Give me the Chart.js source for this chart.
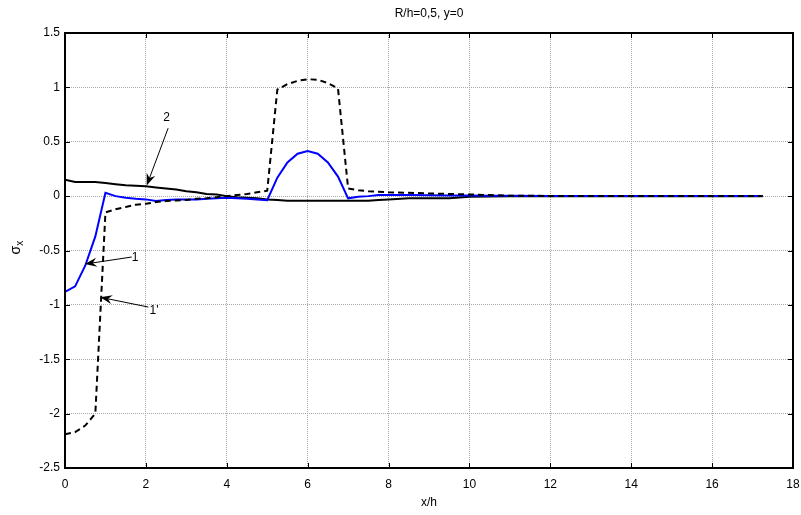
<!DOCTYPE html>
<html>
<head>
<meta charset="utf-8">
<script src="https://cdn.jsdelivr.net/npm/chart.js@4/dist/chart.umd.min.js"></script>
<style>
html,body{margin:0;padding:0;background:#fff;}
#wrap{width:801px;height:515px;}
</style>
</head>
<body>
<div id="wrap"><canvas id="c" width="801" height="515"></canvas></div>
<script>
// x/h positions
const xs = [0,0.25,0.5,0.75,1,1.25,1.5,1.75,2,2.25,2.5,2.75,3,3.25,3.5,3.75,4,4.25,4.5,4.75,5,5.25,5.5,5.75,6,6.25,6.5,6.75,7,7.25,7.5,7.75,8,8.5,9,9.5,10,10.5,11,12,13,14,15,16,17.25];
// curve 1 (blue solid)
const sigma1 = [-0.88,-0.83,-0.64,-0.37,0.03,0.0,-0.015,-0.025,-0.03,-0.045,-0.035,-0.03,-0.03,-0.03,-0.025,-0.02,-0.015,-0.02,-0.025,-0.03,-0.037,0.17,0.31,0.39,0.415,0.39,0.31,0.18,-0.02,-0.005,0.0,0.01,0.01,0.01,0.008,0.006,0.005,0.004,0.003,0.002,0.002,0.002,0.002,0.002,0.002];
// curve 1' (black dashed)
const sigma1p = [-2.19,-2.17,-2.11,-2.0,-0.15,-0.12,-0.1,-0.08,-0.07,-0.055,-0.045,-0.04,-0.035,-0.025,-0.02,-0.01,0.0,0.01,0.02,0.035,0.05,0.98,1.03,1.06,1.075,1.07,1.04,0.99,0.07,0.055,0.045,0.04,0.035,0.03,0.025,0.02,0.015,0.01,0.003,0.002,0.002,0.002,0.002,0.002,0.002];
// curve 2 (black solid)
const sigma2 = [0.15,0.13,0.13,0.13,0.12,0.11,0.10,0.095,0.09,0.08,0.07,0.06,0.045,0.035,0.02,0.015,0.0,-0.01,-0.015,-0.02,-0.03,-0.035,-0.043,-0.043,-0.043,-0.043,-0.043,-0.043,-0.043,-0.043,-0.043,-0.035,-0.03,-0.02,-0.02,-0.02,-0.005,-0.003,-0.002,-0.002,-0.002,-0.002,-0.002,-0.002,-0.002];
const xTicks = [0,2,4,6,8,10,12,14,16,18];
const yTicks = [-2.5,-2,-1.5,-1,-0.5,0,0.5,1,1.5];
const titleText = "R/h=0,5, y=0";
const xTitle = "x/h";
// annotations: label text, label pos, arrow tail, arrow tip (data units)
const annLabels = ["2","1","1'"];
const annLabelPos = [[2.51,0.72],[1.73,-0.57],[2.2,-1.05]];
const annTail = [[2.55,0.625],[1.65,-0.56],[2.06,-1.02]];
const annTip = [[2.02,0.097],[0.49,-0.625],[0.87,-0.93]];

const FONT = "'Liberation Sans', Arial, sans-serif";
const pts = ys => xs.map((x,i)=>({x:x,y:ys[i]}));

const decor = {
  id:'decor',
  afterDraw(chart){
    const ctx = chart.ctx, a = chart.chartArea;
    const sx = chart.scales.x, sy = chart.scales.y;
    ctx.save();
    // inner tick marks
    ctx.strokeStyle = '#000'; ctx.lineWidth = 1;
    ctx.beginPath();
    xTicks.forEach(v=>{
      const p = Math.round(sx.getPixelForValue(v))+0.5;
      ctx.moveTo(p,a.bottom); ctx.lineTo(p,a.bottom-5);
      ctx.moveTo(p,a.top); ctx.lineTo(p,a.top+5);
    });
    yTicks.forEach(v=>{
      const p = Math.round(sy.getPixelForValue(v))+0.5;
      ctx.moveTo(a.left,p); ctx.lineTo(a.left+5,p);
      ctx.moveTo(a.right,p); ctx.lineTo(a.right-5,p);
    });
    ctx.stroke();
    // box
    ctx.lineWidth = 2;
    ctx.strokeRect(a.left, a.top, a.right-a.left, a.bottom-a.top);
    // title
    ctx.fillStyle = '#000';
    ctx.font = '12px ' + FONT;
    ctx.textAlign = 'center'; ctx.textBaseline = 'middle';
    ctx.fillText(titleText, (a.left+a.right)/2, 14);
    ctx.fillText(xTitle, (a.left+a.right)/2, 503);
    // y title sigma_x
    ctx.save();
    ctx.translate(20, (a.top+a.bottom)/2 + 4);
    ctx.rotate(-Math.PI/2);
    ctx.textAlign = 'left'; ctx.textBaseline = 'alphabetic';
    ctx.font = '14px ' + FONT;
    ctx.fillText('σ', 0, 0);
    const w = ctx.measureText('σ').width;
    ctx.font = '10px ' + FONT;
    ctx.fillText('x', w, 3);
    ctx.restore();
    // annotations
    ctx.font = '12px ' + FONT;
    ctx.textAlign = 'center'; ctx.textBaseline = 'middle';
    for (let i=0;i<annLabels.length;i++){
      const lx = sx.getPixelForValue(annLabelPos[i][0]), ly = sy.getPixelForValue(annLabelPos[i][1]);
      ctx.fillText(annLabels[i], lx, ly);
      const tx = sx.getPixelForValue(annTail[i][0]), ty = sy.getPixelForValue(annTail[i][1]);
      const hx = sx.getPixelForValue(annTip[i][0]), hy = sy.getPixelForValue(annTip[i][1]);
      const ang = Math.atan2(hy-ty, hx-tx);
      const L = 12, W = 4.5, N = 8;
      ctx.lineWidth = 1;
      ctx.beginPath(); ctx.moveTo(tx,ty);
      ctx.lineTo(hx - Math.cos(ang)*N, hy - Math.sin(ang)*N); ctx.stroke();
      ctx.beginPath();
      ctx.moveTo(hx,hy);
      ctx.lineTo(hx - Math.cos(ang)*L + Math.sin(ang)*W, hy - Math.sin(ang)*L - Math.cos(ang)*W);
      ctx.lineTo(hx - Math.cos(ang)*N, hy - Math.sin(ang)*N);
      ctx.lineTo(hx - Math.cos(ang)*L - Math.sin(ang)*W, hy - Math.sin(ang)*L + Math.cos(ang)*W);
      ctx.closePath(); ctx.fill();
    }
    ctx.restore();
  }
};

new Chart(document.getElementById('c'), {
  type:'line',
  data:{
    datasets:[
      {label:"1'", data:pts(sigma1p), borderColor:'#000', borderWidth:2, borderDash:[6,4], pointRadius:0, tension:0, fill:false},
      {label:'1', data:pts(sigma1), borderColor:'#0000ff', borderWidth:2, pointRadius:0, tension:0, fill:false},
      {label:'2', data:pts(sigma2), borderColor:'#000', borderWidth:2, pointRadius:0, tension:0, fill:false}
    ]
  },
  plugins:[decor],
  options:{
    responsive:false, animation:false, devicePixelRatio:1,
    layout:{padding:{top:33,right:8,left:0,bottom:0}},
    plugins:{legend:{display:false}, tooltip:{enabled:false}, title:{display:false}},
    scales:{
      x:{type:'linear', min:0, max:18,
        afterFit(s){ s.height = 47; s.paddingLeft = 0; s.paddingRight = 0; },
        afterBuildTicks(s){ s.ticks = xTicks.map(v=>({value:v})); },
        ticks:{padding:9, color:'#000', font:{family:FONT,size:12}, maxRotation:0, callback:v=>String(v)},
        grid:{color:'#a8a8a8', lineWidth:1, drawTicks:false},
        border:{display:false, dash:[1,1]}
      },
      y:{type:'linear', min:-2.5, max:1.5,
        afterFit(s){ s.width = 65; s.paddingTop = 0; s.paddingBottom = 0; },
        afterBuildTicks(s){ s.ticks = yTicks.map(v=>({value:v})); },
        ticks:{padding:5, color:'#000', font:{family:FONT,size:12}, callback:v=>String(v)},
        grid:{color:'#a8a8a8', lineWidth:1, drawTicks:false},
        border:{display:false, dash:[1,1]}
      }
    }
  }
});
</script>
</body>
</html>
